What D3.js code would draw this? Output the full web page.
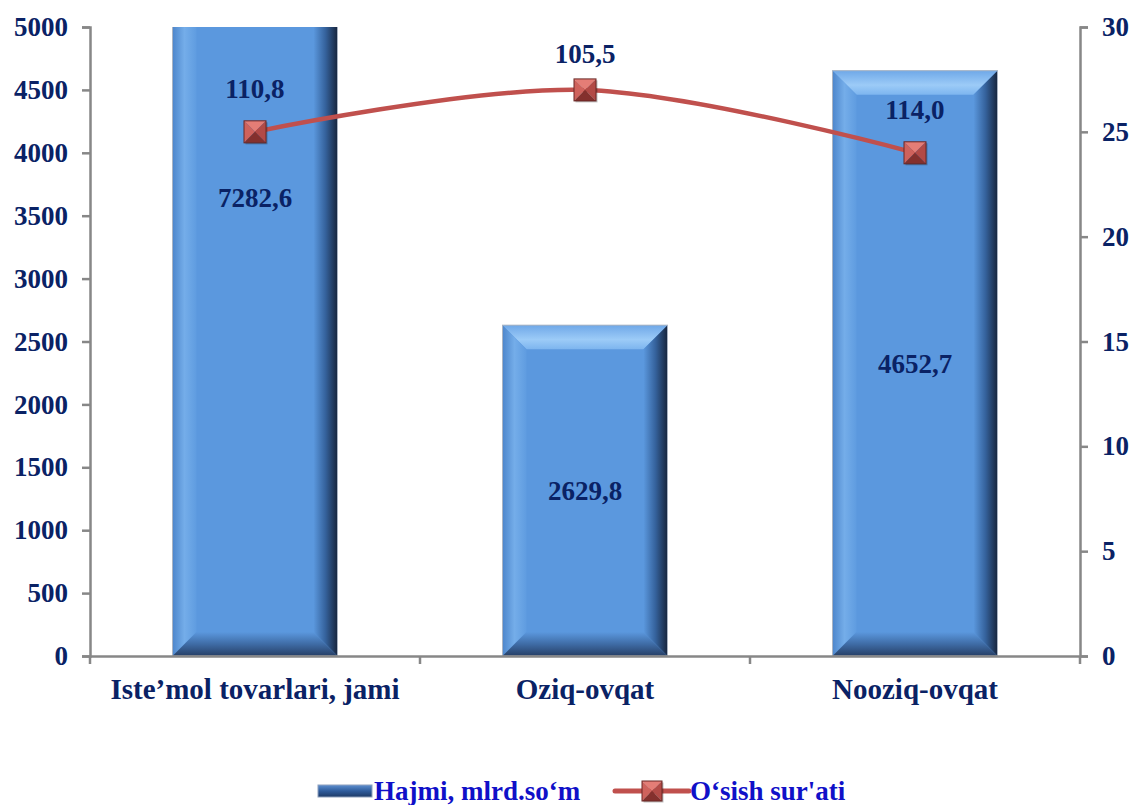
<!DOCTYPE html>
<html>
<head>
<meta charset="utf-8">
<script src="https://cdn.jsdelivr.net/npm/d3@7"></script>
<style>
body { margin: 0; background: #fff; }
text { font-family: "Liberation Serif", "Times New Roman", serif; font-weight: bold; }
</style>
</head>
<body>
<svg id="chart"></svg>
<script>
var width = 1133;
var height = 805;

var margin = { top: 27, left: 90, bottom: 149, right: 53 };

// data
var categories = ["Iste\u2019mol tovarlari, jami", "Oziq-ovqat", "Nooziq-ovqat"];
var volume = [7282.6, 2629.8, 4652.7];
var volumeLabels = ["7282,6", "2629,8", "4652,7"];
var growth = [25, 27, 24];
var growthLabels = ["110,8", "105,5", "114,0"];
var leftTicks = [0, 500, 1000, 1500, 2000, 2500, 3000, 3500, 4000, 4500, 5000];
var rightTicks = [0, 5, 10, 15, 20, 25, 30];
var legendNames = ["Hajmi, mlrd.so\u2018m", "O\u2018sish sur'ati"];

var navy = "#0a2265";
var axisColor = "#878787";

var svg = d3.select("#chart").attr("width", width).attr("height", height);

var xScale = d3.scaleBand().domain(categories)
	.range([margin.left, width - margin.right])
	.paddingInner(0.5).paddingOuter(0.25);
var yLeft = d3.scaleLinear().domain([0, 5000]).range([height - margin.bottom, margin.top]);
var yRight = d3.scaleLinear().domain([0, 30]).range([height - margin.bottom, margin.top]);

var defs = svg.append("defs");
function grad(id, x2, y2, stops) {
	var g = defs.append("linearGradient").attr("id", id)
		.attr("x1", 0).attr("y1", 0).attr("x2", x2).attr("y2", y2);
	stops.forEach(function(s) {
		g.append("stop").attr("offset", s[0]).attr("stop-color", s[1]);
	});
}
grad("bTop", 0, 1, [[0, "#6fa8e8"], [0.6, "#9ccbf7"], [1, "#7db5ef"]]);
grad("bLeft", 1, 0, [[0, "#4d86cc"], [0.5, "#74ade9"], [1, "#5f9ce0"]]);
grad("bRight", 1, 0, [[0, "#5b98de"], [0.5, "#35629c"], [1, "#17253d"]]);
grad("bBottom", 0, 1, [[0, "#5b98de"], [0.5, "#3f6ca6"], [1, "#263f66"]]);
grad("legBar", 0, 1, [[0, "#5d8fd0"], [0.5, "#2f5c9c"], [1, "#1d3a66"]]);

defs.append("clipPath").attr("id", "plotClip").append("rect")
	.attr("x", margin.left).attr("y", margin.top)
	.attr("width", width - margin.left - margin.right)
	.attr("height", height - margin.top - margin.bottom);

// bevelled bar
function bevelBar(g, x0, y0, x1, y1, b) {
	g.append("rect").attr("x", x0).attr("y", y0).attr("width", x1 - x0).attr("height", y1 - y0)
		.attr("fill", "#5b98de");
	var pts = function(a) { return a.map(function(p) { return p.join(","); }).join(" "); };
	g.append("polygon").attr("points", pts([[x0, y0], [x1, y0], [x1 - b, y0 + b], [x0 + b, y0 + b]])).attr("fill", "url(#bTop)");
	g.append("polygon").attr("points", pts([[x0, y0], [x0 + b, y0 + b], [x0 + b, y1 - b], [x0, y1]])).attr("fill", "url(#bLeft)");
	g.append("polygon").attr("points", pts([[x1, y0], [x1, y1], [x1 - b, y1 - b], [x1 - b, y0 + b]])).attr("fill", "url(#bRight)");
	g.append("polygon").attr("points", pts([[x0, y1], [x0 + b, y1 - b], [x1 - b, y1 - b], [x1, y1]])).attr("fill", "url(#bBottom)");
	g.append("rect").attr("x", x0).attr("y", y0).attr("width", x1 - x0).attr("height", y1 - y0)
		.attr("fill", "none").attr("stroke", "#a9b3c2").attr("stroke-width", 1);
}

// pyramid marker
function marker(g, cx, cy, s) {
	var h = s / 2;
	var tl = [cx - h, cy - h], tr = [cx + h, cy - h], br = [cx + h, cy + h], bl = [cx - h, cy + h], c = [cx, cy];
	var faces = [[[tl, tr, c], "#e47d76"], [[tl, bl, c], "#cf625c"], [[tr, br, c], "#b24a46"], [[bl, br, c], "#84302d"]];
	g.append("rect").attr("x", cx - h + 1.5).attr("y", cy - h + 1.5).attr("width", s).attr("height", s)
		.attr("fill", "#000").attr("opacity", 0.25);
	faces.forEach(function(f) {
		g.append("polygon").attr("points", f[0].map(function(p) { return p.join(","); }).join(" "))
			.attr("fill", f[1]);
	});
	g.append("rect").attr("x", cx - h).attr("y", cy - h).attr("width", s).attr("height", s)
		.attr("fill", "none").attr("stroke", "#6a2624").attr("stroke-width", 1);
}

// bars
var barG = svg.append("g").attr("clip-path", "url(#plotClip)");
volume.forEach(function(v, i) {
	var x0 = xScale(categories[i]);
	bevelBar(barG.append("g"), x0, yLeft(v), x0 + xScale.bandwidth(), yLeft(0), 24);
});

// axes
var yAxisL = svg.append("g")
	.attr("transform", `translate(${margin.left}, 0)`)
	.call(d3.axisLeft(yLeft).tickValues(leftTicks).tickSize(8).tickPadding(14).tickFormat(d3.format("d")));
var yAxisR = svg.append("g")
	.attr("transform", `translate(${width - margin.right}, 0)`)
	.call(d3.axisRight(yRight).tickValues(rightTicks).tickSize(8).tickPadding(14).tickFormat(d3.format("d")));
var xAxis = svg.append("g")
	.attr("transform", `translate(0, ${height - margin.bottom})`)
	.call(d3.axisBottom(xScale).tickSize(0).tickPadding(30));

[yAxisL, yAxisR, xAxis].forEach(function(a) {
	a.select(".domain").attr("stroke", axisColor).attr("stroke-width", 2.5);
	a.selectAll(".tick line").attr("stroke", axisColor).attr("stroke-width", 2.5);
	a.selectAll("text").attr("fill", navy);
});
yAxisL.selectAll("text").style("font-size", "27px");
yAxisR.selectAll("text").style("font-size", "27px");
xAxis.selectAll("text").style("font-size", "29px").attr("dy", "0.45em");

// category boundary ticks on x axis
var bounds = [0, 1, 2, 3].map(function(i) { return margin.left + i * xScale.step(); });
svg.append("g").selectAll("line").data(bounds).join("line")
	.attr("x1", function(d) { return d; }).attr("x2", function(d) { return d; })
	.attr("y1", yLeft(0)).attr("y2", yLeft(0) + 8)
	.attr("stroke", axisColor).attr("stroke-width", 2.5);

// bar labels (centred on full bar height)
svg.append("g").selectAll("text").data(volume).join("text")
	.attr("x", function(d, i) { return xScale(categories[i]) + xScale.bandwidth() / 2; })
	.attr("y", function(d) { return (yLeft(d) + yLeft(0)) / 2; })
	.attr("dy", "0.35em").attr("text-anchor", "middle")
	.attr("fill", navy).style("font-size", "27px")
	.text(function(d, i) { return volumeLabels[i]; });

// growth line
var cx = function(i) { return xScale(categories[i]) + xScale.bandwidth() / 2; };
var valueline = d3.line()
	.x(function(d, i) { return cx(i); })
	.y(function(d) { return yRight(d); })
	.curve(d3.curveCatmullRom);
svg.append("path").attr("d", valueline(growth))
	.attr("fill", "none").attr("stroke", "#c0504d").attr("stroke-width", 4.5);

var markG = svg.append("g");
growth.forEach(function(v, i) { marker(markG, cx(i), yRight(v), 22); });

// labels above points, kept inside the plot area
svg.append("g").selectAll("text").data(growth).join("text")
	.attr("x", function(d, i) { return cx(i); })
	.attr("y", function(d) { return Math.max(yRight(d) - 43, margin.top + 27); })
	.attr("dy", "0.35em").attr("text-anchor", "middle")
	.attr("fill", navy).style("font-size", "27px")
	.text(function(d, i) { return growthLabels[i]; });

// legend
var leg = svg.append("g");
leg.append("rect").attr("x", 318).attr("y", 785).attr("width", 54).attr("height", 12)
	.attr("fill", "url(#legBar)").attr("stroke", "#8da0bd").attr("stroke-width", 1);
leg.append("text").attr("x", 374).attr("y", 791).attr("dy", "0.35em")
	.attr("fill", "#1010c8").style("font-size", "27px").text(legendNames[0]);
leg.append("line").attr("x1", 615).attr("x2", 689).attr("y1", 791).attr("y2", 791)
	.attr("stroke", "#c0504d").attr("stroke-width", 5).attr("stroke-linecap", "round");
marker(leg, 652, 791, 20);
leg.append("text").attr("x", 690).attr("y", 791).attr("dy", "0.35em")
	.attr("fill", "#1010c8").style("font-size", "27px").text(legendNames[1]);
</script>
</body>
</html>
